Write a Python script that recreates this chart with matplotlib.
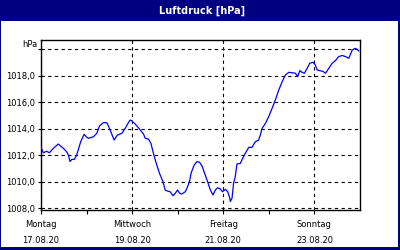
import matplotlib
matplotlib.use("Agg")
import matplotlib.pyplot as plt
import pandas as pd
from matplotlib.patches import Rectangle

# hours since Mon 17.08.20 00:00 and pressure in hPa
hours = [0, 1.2, 3.0, 4.4, 6.5, 9.1, 11.8, 13.6, 14.4, 15.3, 16.2, 17.6, 18.8, 19.7,
         20.9, 22.7, 24.1, 25.0, 27.6, 29.4, 30.8, 32.9, 34.7, 36.4, 38.5, 40.2,
         42.6, 44.3, 46.6, 47.3, 49.6, 52.2, 54.0, 54.9, 56.6, 57.9, 59.2, 60.7,
         62.4, 64.2, 65.4, 66.6, 68.0, 69.5, 70.7, 71.9, 73.0, 74.2, 76.0, 77.2,
         78.2, 79.1, 80.7, 82.1, 83.5, 84.8, 86.5, 87.7, 89.2, 90.6, 91.8, 93.0,
         94.4, 95.6, 97.1, 98.3, 99.3, 99.7, 100.6, 101.4, 102.3, 103.2, 105.0,
         106.2, 107.6, 109.4, 111.1, 112.9, 114.6, 115.5, 116.4, 118.2, 119.9,
         121.7, 123.4, 125.2, 127.0, 128.7, 130.5, 132.2, 134.0, 135.2, 136.3,
         137.5, 138.7, 140.2, 141.5, 143.3, 144.5, 145.4, 146.8, 148.6, 149.8,
         151.6, 153.3, 155.1, 156.8, 158.6, 160.4, 162.1, 163.9, 165.3, 166.5, 167.4]
pressure = [1012.58, 1012.17, 1012.28, 1012.17, 1012.5, 1012.83, 1012.5, 1012.23,
            1012.0, 1011.5, 1011.67, 1011.67, 1012.0, 1012.43, 1013.0, 1013.56,
            1013.34, 1013.26, 1013.38, 1013.64, 1014.19, 1014.44, 1014.44, 1013.89,
            1013.13, 1013.5, 1013.64, 1014.0, 1014.58, 1014.64, 1014.34, 1013.9,
            1013.58, 1013.26, 1013.2, 1012.88, 1012.13, 1011.37, 1010.62, 1010.0,
            1009.36, 1009.28, 1009.23, 1008.93, 1009.11, 1009.36, 1009.11, 1009.06,
            1009.23, 1009.61, 1010.0, 1010.66, 1011.25, 1011.5, 1011.45, 1011.17,
            1010.49, 1010.0, 1009.36, 1008.98, 1009.36, 1009.53, 1009.43, 1009.23,
            1009.41, 1009.23, 1008.81, 1008.49, 1008.73, 1009.86, 1010.36, 1011.32,
            1011.37, 1011.75, 1012.13, 1012.58, 1012.58, 1013.0, 1013.13, 1013.5,
            1014.0, 1014.39, 1014.89, 1015.52, 1016.15, 1016.9, 1017.53, 1018.04,
            1018.24, 1018.21, 1018.17, 1017.92, 1018.37, 1018.24, 1018.17, 1018.55,
            1018.92, 1019.0, 1018.79, 1018.42, 1018.37, 1018.3, 1018.17, 1018.55,
            1018.92, 1019.13, 1019.43, 1019.51, 1019.43, 1019.3, 1019.92, 1020.05,
            1019.97, 1019.85]

start = pd.Timestamp("2020-08-17")
tick_days = ["2020-08-17", "2020-08-19", "2020-08-21", "2020-08-23"]
tick_labels = ["Montag\n17.08.20", "Mittwoch\n19.08.20", "Freitag\n21.08.20", "Sonntag\n23.08.20"]
minor_days = ["2020-08-18", "2020-08-20", "2020-08-22"]
y_ticks = [1008, 1010, 1012, 1014, 1016, 1018, 1020]
y_labels = ["1008,0", "1010,0", "1012,0", "1014,0", "1016,0", "1018,0", ""]

navy = "#000080"
plt.rcParams["font.family"] = ["DejaVu Sans"]

fig = plt.figure(figsize=(4, 2.5), dpi=100, facecolor=navy)
fig.patches.append(Rectangle((1 / 400, 3 / 250), 397 / 400, 226 / 250,
                             transform=fig.transFigure, facecolor="white",
                             edgecolor="none", zorder=-10))
fig.text(0.505, 0.958, "Luftdruck [hPa]", color="white", fontsize=7,
         fontweight="bold", ha="center", va="center")

ax = fig.add_axes([41 / 400, 40 / 250, 319 / 400, 170 / 250])
times = start + pd.to_timedelta(hours, unit="h")
ax.plot(times, pressure, color="#0000FF", lw=0.9, zorder=3)

ax.set_xlim(start, start + pd.Timedelta(days=7))
ax.set_ylim(1007.85, 1020.68)
ax.set_xticks(pd.to_datetime(tick_days), labels=tick_labels)
ax.set_xticks(pd.to_datetime(minor_days), minor=True)
ax.set_yticks(y_ticks, labels=y_labels)

ax.grid(True, which="major", color="black", linestyle=(0, (3, 3)), lw=0.8)
ax.tick_params(axis="x", which="both", direction="out", length=3, width=0.8,
               labelsize=6, pad=4)
ax.tick_params(axis="y", direction="out", length=2, width=0.8, labelsize=6, pad=2)
for lab in ax.get_xticklabels():
    lab.set_linespacing(2.0)
for s in ax.spines.values():
    s.set_color("black")
    s.set_linewidth(1)
# "hPa" sits at y≈45px, just above the 1020 grid line
ax.text(-0.012, 1 - 5 / 170, "hPa", transform=ax.transAxes, fontsize=6,
        ha="right", va="center")

fig.savefig("out.png", dpi=100, facecolor=navy)
